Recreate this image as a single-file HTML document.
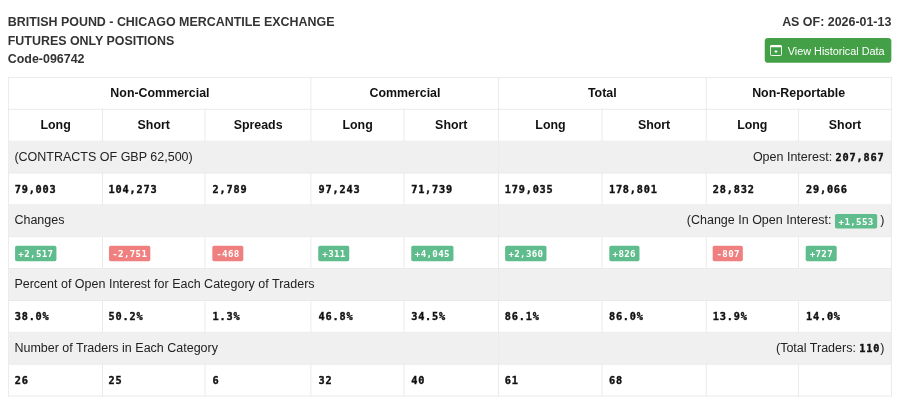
<!DOCTYPE html>
<html lang="en">
<head>
<meta charset="utf-8">
<title>COT Report - British Pound</title>
<style>
  html, body { margin: 0; padding: 0; background: #fff; }
  body { width: 900px; height: 409px; overflow: hidden; font-family: "Liberation Sans", Arial, sans-serif; color: #333; }
  #wrap { width: 1045px; height: 475px; transform: scale(0.8612); transform-origin: 0 0; position: relative; }
  .head { position: absolute; left: 9px; top: 15.2px; right: 10px; font-weight: bold; font-size: 14.45px; line-height: 21.5px; color: #333; }
  .head .r { position: absolute; right: 0; top: 0; text-align: right; }
  .btn { position: absolute; left: 888.3px; top: 44.3px; height: 28.9px; width: 146.3px; box-sizing: border-box; background: #43a047; color: #fff; border-radius: 4px; font-size: 12.6px; line-height: 28.7px; white-space: nowrap; }
  .btn svg { position: absolute; left: 6px; top: 7.9px; }
  .btn span { position: absolute; left: 26.4px; top: 1.6px; }
  #twrap { position: absolute; left: 0; top: 0; width: 1025px; height: 372px; transform: translate(8.21px, 76.97px) scale(0.8612); transform-origin: 0 0; }
  table { position: absolute; left: 0; top: 0; width: 1025px; border-collapse: collapse; table-layout: fixed; font-size: 14px; }
  td, th { border: 1px solid #e7e7e7; height: 37px; padding: 0 6.5px; box-sizing: border-box; line-height: 20px; vertical-align: middle; text-align: left; overflow: hidden; white-space: nowrap; }
  th { text-align: center; font-weight: bold; color: #111; font-size: 14.4px; padding-bottom: 2.4px; }
  tr.g td { background: #f0f0f0; color: #222; font-weight: normal; font-size: 14.52px; padding-bottom: 1.2px; padding-left: 6.2px; }
  td.bd { padding-bottom: 1.1px; }
  td.num { padding-top: 1.2px; }
  td.num { font-family: "DejaVu Sans Mono", "Liberation Mono", monospace; font-weight: bold; color: #111; font-size: 11.9px; letter-spacing: 0.95px; -webkit-text-stroke: 0.45px #111; }
  tr.d td:nth-child(3) { padding-left: 8.3px; }
  tr.d td:nth-child(4) { padding-left: 8px; }
  tr.d td:nth-child(5) { padding-left: 7.9px; }
  tr.d td:nth-child(7) { padding-left: 7.2px; }
  tr.d td:nth-child(8) { padding-left: 7.5px; }
  tr.d td:nth-child(9) { padding-left: 7.9px; }
  tr.r8 td.num { padding-top: 0; padding-bottom: 0.5px; }
  td.rt { text-align: right; padding-right: 7.5px; }
  .m { font-family: "DejaVu Sans Mono", "Liberation Mono", monospace; font-weight: bold; color: #111; font-size: 11.9px; letter-spacing: 0.95px; -webkit-text-stroke: 0.45px #111; }
  .b { display: inline-block; font-family: "DejaVu Sans Mono", "Liberation Mono", monospace; font-weight: bold; color: #fff; font-size: 10.6px; letter-spacing: 0.4px; line-height: 15.4px; height: 15.4px; padding: 2.6px 3.8px 0 4.3px; border-radius: 2px; vertical-align: middle; }
  .up { background: #5fbc8c; }
  .dn { background: #f08080; }
</style>
</head>
<body>
<div id="wrap">
  <div class="head">
    <div>BRITISH POUND - CHICAGO MERCANTILE EXCHANGE</div>
    <div>FUTURES ONLY POSITIONS</div>
    <div>Code-096742</div>
    <div class="r">AS OF: 2026-01-13</div>
  </div>
  <div class="btn">
    <svg width="14" height="13.1" viewBox="0 0 14 13.1" fill="none" stroke="#fff">
      <rect x="0.55" y="0.9" width="12.9" height="11.6" rx="1.2" stroke-width="1.1"/>
      <path d="M0.6 1.7h12.8" stroke-width="2.2"/>
      <path d="M7 6.1v3.4M5.3 7.8h3.4" stroke-width="1.2"/>
    </svg>
    <span>View Historical Data</span>
  </div>
</div>
<div id="twrap">
  <table>
    <colgroup>
      <col style="width:109px"><col style="width:119px"><col style="width:123.4px"><col style="width:107.6px"><col style="width:110px"><col style="width:120.3px"><col style="width:120.3px"><col style="width:107.8px"><col style="width:107.6px">
    </colgroup>
    <tr><th colspan="3">Non-Commercial</th><th colspan="2">Commercial</th><th colspan="2">Total</th><th colspan="2">Non-Reportable</th></tr>
    <tr><th>Long</th><th>Short</th><th>Spreads</th><th>Long</th><th>Short</th><th>Long</th><th>Short</th><th>Long</th><th>Short</th></tr>
    <tr class="g"><td colspan="5">(CONTRACTS OF GBP 62,500)</td><td colspan="4" class="rt">Open Interest: <span class="m">207,867</span></td></tr>
    <tr class="d"><td class="num">79,003</td><td class="num">104,273</td><td class="num">2,789</td><td class="num">97,243</td><td class="num">71,739</td><td class="num">179,035</td><td class="num">178,801</td><td class="num">28,832</td><td class="num">29,066</td></tr>
    <tr class="g"><td colspan="5">Changes</td><td colspan="4" class="rt">(Change In Open Interest: <span class="b up">+1,553</span> )</td></tr>
    <tr class="d"><td class="bd"><span class="b up">+2,517</span></td><td class="bd"><span class="b dn">-2,751</span></td><td class="bd"><span class="b dn">-468</span></td><td class="bd"><span class="b up">+311</span></td><td class="bd"><span class="b up">+4,045</span></td><td class="bd"><span class="b up">+2,360</span></td><td class="bd"><span class="b up">+826</span></td><td class="bd"><span class="b dn">-807</span></td><td class="bd"><span class="b up">+727</span></td></tr>
    <tr class="g"><td colspan="5">Percent of Open Interest for Each Category of Traders</td><td colspan="4"></td></tr>
    <tr class="d r8"><td class="num">38.0%</td><td class="num">50.2%</td><td class="num">1.3%</td><td class="num">46.8%</td><td class="num">34.5%</td><td class="num">86.1%</td><td class="num">86.0%</td><td class="num">13.9%</td><td class="num">14.0%</td></tr>
    <tr class="g"><td colspan="5">Number of Traders in Each Category</td><td colspan="4" class="rt">(Total Traders: <span class="m">110</span>)</td></tr>
    <tr class="d"><td class="num">26</td><td class="num">25</td><td class="num">6</td><td class="num">32</td><td class="num">40</td><td class="num">61</td><td class="num">68</td><td class="num"></td><td class="num"></td></tr>
  </table>
</div>
</body>
</html>
